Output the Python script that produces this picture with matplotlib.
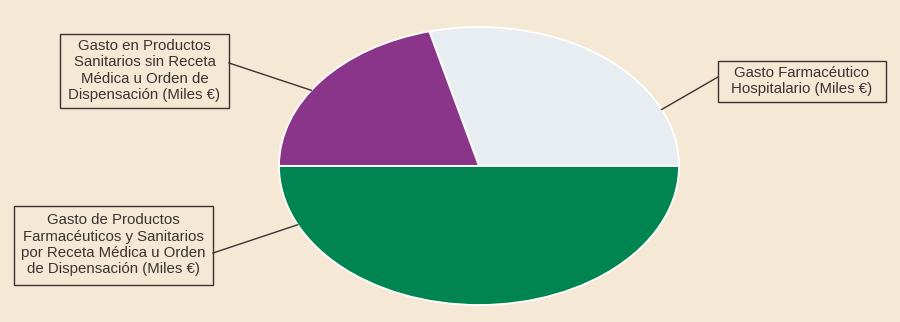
import numpy as np
import matplotlib.pyplot as plt
from matplotlib.patches import Rectangle

# Shares of spending (percent), counter-clockwise starting at 3 o'clock
labels = [
    "Gasto Farmacéutico\nHospitalario (Miles €)",
    "Gasto en Productos\nSanitarios sin Receta\nMédica u Orden de\nDispensación (Miles €)",
    "Gasto de Productos\nFarmacéuticos y Sanitarios\npor Receta Médica u Orden\nde Dispensación (Miles €)",
]
shares = [29.0, 21.0, 50.0]
colors = ["#E8EDF1", "#8A358A", "#008451"]

# label box layout (pixels: left, top, right, bottom) and where the leader hits the pie (degrees)
boxes = [(718, 61, 886, 102), (60, 34, 229, 108), (14, 206, 213, 285)]
line_start = [(718, 77), (229, 63), (213, 253)]
anchor_deg = [24, 147, 205]

W, H = 900, 322
bg = "#F5E9D6"
ink = "#3B3330"

fig = plt.figure(figsize=(W / 100, H / 100), dpi=100, facecolor=bg)

# axes spanning the elliptical pie's bounding box
cx, cy, rx, ry = 479, 166, 200, 139
ax = fig.add_axes([(cx - rx) / W, (H - cy - ry) / H, 2 * rx / W, 2 * ry / H])
ax.pie(shares, colors=colors, startangle=0, counterclock=True, radius=1,
       wedgeprops=dict(edgecolor="white", linewidth=1.3))
ax.set_aspect("auto")
ax.set_xlim(-1, 1)
ax.set_ylim(-1, 1)
ax.axis("off")

for lab, (l, t, r, b), (sx, sy), ang in zip(labels, boxes, line_start, anchor_deg):
    fig.patches.append(Rectangle((l / W, 1 - b / H), (r - l) / W, (b - t) / H,
                                 transform=fig.transFigure, facecolor="none",
                                 edgecolor=ink, linewidth=1.0))
    fig.text((l + r) / 2 / W, 1 - (t + b) / 2 / H + 0.002, lab, ha="center", va="center",
             fontsize=10.8, color=ink, linespacing=1.22, family="Liberation Sans")
    a = np.deg2rad(ang)
    ex = cx + rx * np.cos(a)
    ey = cy - ry * np.sin(a)
    fig.add_artist(plt.Line2D([sx / W, ex / W], [1 - sy / H, 1 - ey / H],
                              transform=fig.transFigure, color=ink, linewidth=1.0))

fig.savefig("out.png", dpi=100, facecolor=bg)
